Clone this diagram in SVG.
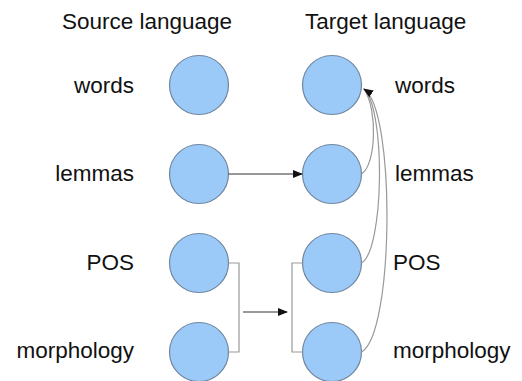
<svg xmlns="http://www.w3.org/2000/svg" width="522" height="381" viewBox="0 0 522 381">
<style>
text{font-family:"Liberation Sans",Arial,sans-serif;font-size:22.5px;fill:#111}
.l{text-anchor:end}
circle{fill:#9ccaf8;stroke:#6f86a0;stroke-width:1.2}
.c{fill:none;stroke:#999;stroke-width:1.2}
.a{fill:none;stroke:#333;stroke-width:1}
</style>
<defs>
<marker id="ah" markerWidth="10" markerHeight="8" refX="9" refY="4" orient="auto" markerUnits="userSpaceOnUse">
<path d="M0,0 L10,4 L0,8 Z" fill="#111"/>
</marker>
</defs>
<rect width="522" height="381" fill="#fff"/>
<text x="62" y="29">Source language</text>
<text x="305" y="29">Target language</text>
<g id="src-words"><circle cx="199" cy="85" r="29.5"/><text class="l" x="134" y="93">words</text></g>
<g id="src-lemmas"><circle cx="199" cy="174" r="29.5"/><text class="l" x="134" y="181">lemmas</text></g>
<g id="src-pos"><circle cx="199" cy="263" r="29.5"/><text class="l" x="134" y="270">POS</text></g>
<g id="src-morph"><circle cx="199" cy="352" r="29.5"/><text class="l" x="134" y="358">morphology</text></g>
<g id="tgt-words"><circle cx="332" cy="85" r="29.5"/><text x="395" y="93">words</text></g>
<g id="tgt-lemmas"><circle cx="332" cy="174" r="29.5"/><text x="395" y="181">lemmas</text></g>
<g id="tgt-pos"><circle cx="332" cy="263" r="29.5"/><text x="393" y="270">POS</text></g>
<g id="tgt-morph"><circle cx="332" cy="352" r="29.5"/><text x="393" y="358">morphology</text></g>
<g id="connectors">
<path class="a" d="M228.5,174 H302" marker-end="url(#ah)"/>
<path class="c" d="M228.5,263 H239 V352 H228.5"/>
<path class="c" d="M302.5,263 H292 V352 H302.5"/>
<path class="a" d="M243,312 H287" marker-end="url(#ah)"/>
<path class="c" d="M361.5,174 C376,165 378,110 364,89"/>
<path class="c" d="M361.5,263 C384,250 386,110 364,89"/>
<path class="c" d="M361.5,352 C394,335 396,110 364,89" marker-end="url(#ah)"/>
</g>
</svg>
